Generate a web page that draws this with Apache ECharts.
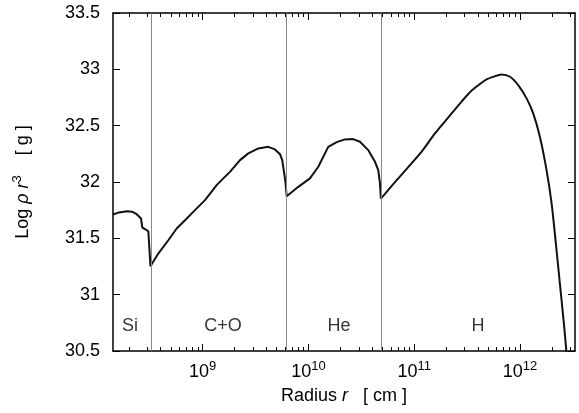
<!DOCTYPE html>
<html>
<head>
<meta charset="utf-8">
<script src="https://cdn.jsdelivr.net/npm/echarts@6/dist/echarts.min.js"></script>
<style>
  html, body { margin: 0; padding: 0; background: #fff; }
  #chart { width: 579px; height: 413px; }
</style>
</head>
<body>
<div id="chart"></div>
<script>
// Radius is plotted as log10(r / cm); the axis labels show 10^n.
const logRadius = [
  8.152, 8.209, 8.282, 8.332, 8.376, 8.417, 8.429, 8.459, 8.486, 8.506,
  8.580, 8.675, 8.754, 8.833, 8.927, 9.022, 9.132, 9.195, 9.258, 9.353,
  9.431, 9.526, 9.620, 9.683, 9.731, 9.752, 9.771, 9.784, 9.794,
  9.904, 10.014, 10.093, 10.187, 10.267, 10.345, 10.423, 10.487, 10.565,
  10.629, 10.660, 10.676, 10.685,
  10.818, 10.943, 11.070, 11.196, 11.321, 11.448, 11.543, 11.621, 11.684,
  11.747, 11.826, 11.905, 11.983, 12.062, 12.125, 12.188, 12.251, 12.299,
  12.339, 12.377, 12.415, 12.440
];
// log10(rho * r^3) in grams
const logRhoR3 = [
  31.712, 31.730, 31.741, 31.737, 31.714, 31.676, 31.595, 31.579, 31.563, 31.253,
  31.365, 31.483, 31.587, 31.661, 31.750, 31.839, 31.972, 32.032, 32.090, 32.194,
  32.254, 32.298, 32.312, 32.289, 32.247, 32.194, 32.076, 31.987, 31.874,
  31.957, 32.032, 32.135, 32.312, 32.354, 32.378, 32.381, 32.357, 32.283,
  32.179, 32.105, 31.987, 31.852,
  31.999, 32.132, 32.270, 32.431, 32.572, 32.714, 32.812, 32.869, 32.911,
  32.934, 32.955, 32.934, 32.860, 32.742, 32.609, 32.401, 32.105, 31.809,
  31.454, 31.099, 30.743, 30.480
];

// Composition shell boundaries (log10 r) and shell names
const shellEdges = [8.508, 9.794, 10.685];
const shellNames = ['Si', 'C+O', 'He', 'H'];
const shellLabelX = [8.313, 9.192, 10.288, 11.602];
const shellLabelY = 30.72;

// Axis ranges and tick labels
const xMin = 8.152, xMax = 12.52;
const xMajorExponents = [9, 10, 11, 12];
const yMin = 30.5, yMax = 33.5, yStep = 0.5;

// Minor log ticks at 2..9 x 10^n
const xMinorTicks = [];
for (let n = 8; n <= 12; n++) {
  for (let k = 2; k <= 9; k++) {
    const v = n + Math.log10(k);
    if (v > xMin && v < xMax) xMinorTicks.push(v);
  }
}

const FONT = "'Liberation Sans', Arial, Helvetica, sans-serif";
const BLACK = '#000';
const FS = 18;

// Inner shells are drawn as a polyline; the hydrogen envelope (from the
// He/H interface outward) is drawn smoothed.
const envelopeStart = logRadius.indexOf(shellEdges[2]);
const points = logRadius.map((x, i) => [x, logRhoR3[i]]);
const coreData = points.slice(0, envelopeStart + 1);
const envelopeData = points.slice(envelopeStart);
const labelData = shellNames.map((n, i) => [shellLabelX[i], shellLabelY, n]);

function xAxisDef(position, ticks, len, withLine, withLabels) {
  const ax = {
    type: 'value', gridIndex: 0, position: position,
    min: xMin, max: xMax,
    splitLine: { show: false },
    axisLine: { show: withLine, lineStyle: { color: BLACK, width: 1.5 } },
    axisTick: { show: true, inside: true, length: len, customValues: ticks,
                lineStyle: { color: BLACK, width: 1 } },
    axisLabel: { show: false }
  };
  if (withLabels) {
    ax.axisLabel = {
      show: true, customValues: ticks, margin: 9,
      formatter: v => '{b|10}{s|' + Math.round(v) + '}',
      rich: {
        b: { fontSize: FS, fontFamily: FONT, color: BLACK, verticalAlign: 'bottom' },
        s: { fontSize: 13, fontFamily: FONT, color: BLACK, verticalAlign: 'bottom',
             padding: [0, 0, 8, 0] }
      }
    };
    ax.name = '{a|Radius }{i|r}{a|   [ cm ]}';
    ax.nameLocation = 'middle';
    ax.nameGap = 36;
    ax.nameTextStyle = {
      rich: {
        a: { fontSize: FS, fontFamily: FONT, color: BLACK },
        i: { fontSize: FS, fontFamily: FONT, color: BLACK, fontStyle: 'italic' }
      }
    };
  }
  return ax;
}

const curveStyle = { color: '#111', width: 2 };

const option = {
  animation: false,
  backgroundColor: '#fff',
  grid: { left: 113, right: 4, top: 13, bottom: 62, containLabel: false },
  xAxis: [
    xAxisDef('bottom', xMajorExponents, 7, true, true),
    xAxisDef('bottom', xMinorTicks, 4, false, false),
    xAxisDef('top', xMajorExponents, 7, true, false),
    xAxisDef('top', xMinorTicks, 4, false, false)
  ],
  yAxis: [
    {
      type: 'value', position: 'left', min: yMin, max: yMax, interval: yStep,
      splitLine: { show: false },
      axisLine: { show: true, lineStyle: { color: BLACK, width: 1.5 } },
      axisTick: { show: true, inside: true, length: 7, lineStyle: { color: BLACK, width: 1 } },
      axisLabel: { margin: 13, fontSize: FS, fontFamily: FONT, color: BLACK },
      name: '{a|Log }{i|\u03c1}{a| }{i|r}{s|3}{a|    [ g ]}',
      nameLocation: 'middle', nameRotate: 90, nameGap: 81,
      nameTextStyle: {
        rich: {
          a: { fontSize: FS, fontFamily: FONT, color: BLACK, verticalAlign: 'bottom' },
          i: { fontSize: FS, fontFamily: FONT, color: BLACK, fontStyle: 'italic', verticalAlign: 'bottom' },
          s: { fontSize: 13, fontFamily: FONT, color: BLACK, verticalAlign: 'bottom', padding: [0, 0, 8, 0] }
        }
      }
    },
    {
      type: 'value', position: 'right', min: yMin, max: yMax, interval: yStep,
      splitLine: { show: false },
      axisLine: { show: true, lineStyle: { color: BLACK, width: 1.5 } },
      axisTick: { show: true, inside: true, length: 7, lineStyle: { color: BLACK, width: 1 } },
      axisLabel: { show: false }
    }
  ],
  series: [
    {
      name: 'shells', type: 'line', data: [], xAxisIndex: 0, yAxisIndex: 0, z: 1,
      markLine: {
        silent: true, symbol: 'none', animation: false,
        label: { show: false },
        lineStyle: { color: '#888', width: 1, type: 'solid' },
        data: shellEdges.map(x => ({ xAxis: x }))
      }
    },
    {
      name: 'shell names', type: 'scatter', data: labelData, symbolSize: 0,
      xAxisIndex: 0, yAxisIndex: 0, z: 3,
      label: { show: true, position: 'inside', formatter: p => p.data[2],
               fontSize: FS, fontFamily: FONT, color: BLACK }
    },
    {
      name: 'core', type: 'line', data: coreData, xAxisIndex: 0, yAxisIndex: 0,
      showSymbol: false, symbol: 'none', z: 2, clip: true,
      lineStyle: curveStyle
    },
    {
      name: 'envelope', type: 'line', data: envelopeData, xAxisIndex: 0, yAxisIndex: 0,
      showSymbol: false, symbol: 'none', z: 2, clip: true, smooth: 0.3,
      lineStyle: curveStyle
    }
  ]
};

const chart = echarts.init(document.getElementById('chart'), null, { renderer: 'canvas' });
chart.setOption(option);
</script>
</body>
</html>
